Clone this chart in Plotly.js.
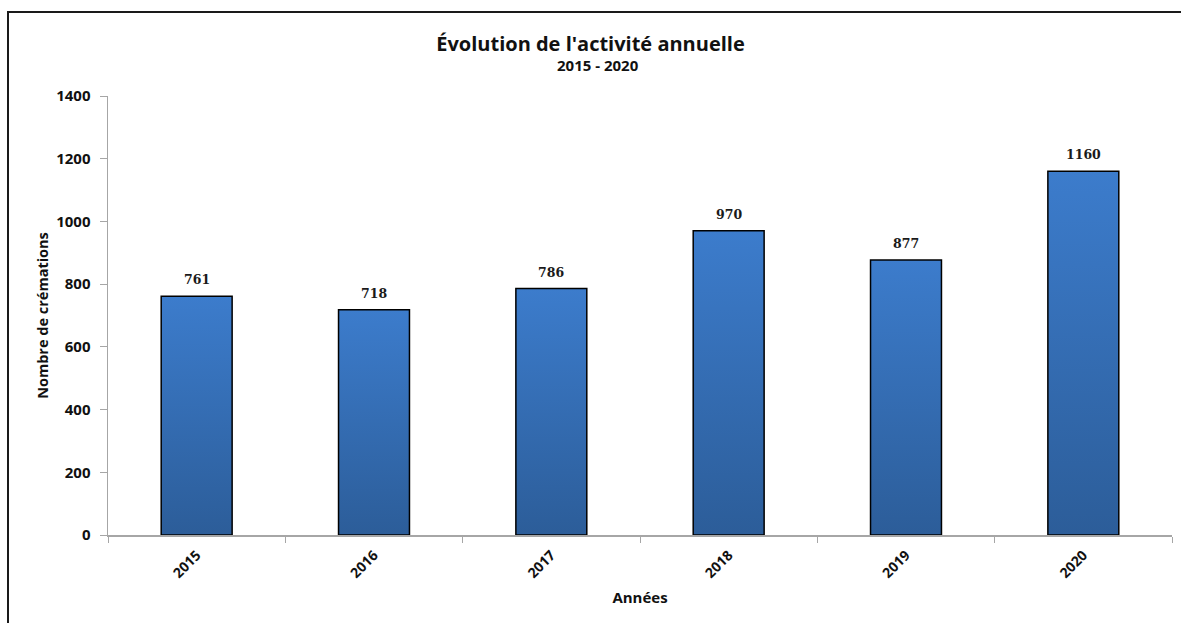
<!DOCTYPE html>
<html>
<head>
<meta charset="utf-8">
<script src="https://cdn.plot.ly/plotly-3.0.1.min.js"></script>
<style>
html,body{margin:0;padding:0;background:#fff;overflow:hidden;}
#chart{width:1181px;height:623px;position:relative;}
#frame{position:absolute;left:7px;top:11px;width:1200px;height:700px;border-left:2px solid #1a1a1a;border-top:2px solid #1a1a1a;pointer-events:none;}
</style>
</head>
<body>
<div id="chart"></div>
<div id="frame"></div>
<script>
const years = ['2015','2016','2017','2018','2019','2020'];
const cremations = [761, 718, 786, 970, 877, 1160];
const yTicks = [0, 200, 400, 600, 800, 1000, 1200, 1400];
const titleText = "Évolution de l'activité annuelle";
const subtitleText = '2015 - 2020';

const FONT = 'Open Sans, Noto Sans, sans-serif';

const trace = {
  type: 'bar',
  x: years,
  y: cremations,
  width: 0.4,
  marker: {color: '#3470b8', line: {color: '#000', width: 1.5}},
  cliponaxis: false,
  hoverinfo: 'x+y'
};

// value labels positioned by category index on the category axis
const valueLabels = years.map(function(yr, i){
  return {
    x: i, y: cremations[i], xref: 'x', yref: 'y',
    text: '<b>' + cremations[i] + '</b>',
    showarrow: false, yanchor: 'bottom', yshift: 7,
    font: {family: 'DejaVu Serif, Liberation Serif, serif', size: 12.5, color: '#1a1a1a'}
  };
});

const subtitle = {
  x: 0.4605, xref: 'paper', y: 1.07, yref: 'paper',
  xanchor: 'center', yanchor: 'middle', showarrow: false,
  text: '<b>' + subtitleText + '</b>',
  font: {family: FONT, size: 15, color: '#111'}
};

const layout = {
  width: 1181, height: 623,
  margin: {l: 108, r: 9, t: 96, b: 88},
  paper_bgcolor: '#fff', plot_bgcolor: '#fff',
  showlegend: false,
  title: {
    text: '<b>' + titleText + '</b>',
    x: 0.5, xanchor: 'center', y: 0.93, yanchor: 'middle',
    font: {family: FONT, size: 20, color: '#111'}
  },
  annotations: valueLabels.concat([subtitle]),
  xaxis: {
    type: 'category',
    categoryarray: years,
    tickangle: -45,
    tickfont: {family: FONT, size: 14, color: '#111', weight: 'bold'},
    showline: true, linecolor: '#a6a6a6', linewidth: 1.5,
    ticks: 'outside', ticklen: 6, tickcolor: '#a6a6a6', tickson: 'boundaries',
    ticklabelstandoff: 5,
    showgrid: false, zeroline: false,
    title: {text: '<b>Années</b>', standoff: 12, font: {family: FONT, size: 15, color: '#111'}}
  },
  yaxis: {
    range: [0, 1400],
    tickvals: yTicks,
    ticktext: yTicks.map(String),
    tickfont: {family: FONT, size: 15, color: '#111', weight: 'bold'},
    showline: true, linecolor: '#a6a6a6', linewidth: 1.5,
    ticks: 'outside', ticklen: 7, tickcolor: '#a6a6a6',
    ticklabelstandoff: 6,
    showgrid: false, zeroline: false,
    title: {text: '<b>Nombre de crémations</b>', standoff: 4, font: {family: FONT, size: 14.5, color: '#111'}}
  }
};

Plotly.newPlot('chart', [trace], layout, {displayModeBar: false, staticPlot: true}).then(function(gd){
  const svg = gd.querySelector('svg.main-svg');
  const ns = 'http://www.w3.org/2000/svg';
  let defs = svg.querySelector('defs');
  if (!defs) { defs = document.createElementNS(ns, 'defs'); svg.insertBefore(defs, svg.firstChild); }
  const grad = document.createElementNS(ns, 'linearGradient');
  grad.setAttribute('id', 'barGrad');
  grad.setAttribute('x1', '0'); grad.setAttribute('y1', '0');
  grad.setAttribute('x2', '0'); grad.setAttribute('y2', '1');
  [['0%', '#3c7ccc'], ['100%', '#2c5d99']].forEach(function(s){
    const st = document.createElementNS(ns, 'stop');
    st.setAttribute('offset', s[0]); st.setAttribute('stop-color', s[1]);
    grad.appendChild(st);
  });
  defs.appendChild(grad);
  gd.querySelectorAll('.bars .point path').forEach(function(p){
    p.style.fill = 'url(#barGrad)';
  });
});
</script>
</body>
</html>
